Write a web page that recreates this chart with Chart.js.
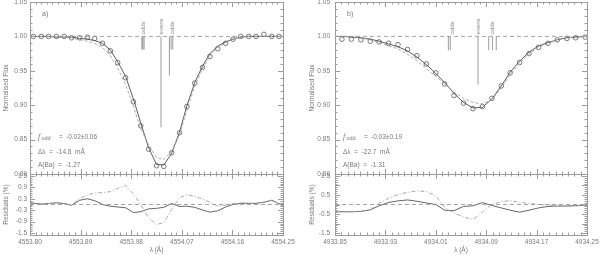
<!DOCTYPE html>
<html>
<head>
<meta charset="utf-8">
<script src="https://cdn.jsdelivr.net/npm/chart.js@4"></script>
<style>
html, body { margin: 0; padding: 0; background: #fff; }
#wrap { position: relative; width: 600px; height: 255px; overflow: hidden; }
canvas { position: absolute; }
</style>
</head>
<body>
<div id="wrap">
	<canvas id="fluxA" width="300" height="180" style="left:0;top:0"></canvas>
	<canvas id="resA" width="300" height="87" style="left:0;top:168px"></canvas>
	<canvas id="fluxB" width="300" height="180" style="left:300px;top:0"></canvas>
	<canvas id="resB" width="300" height="87" style="left:300px;top:168px"></canvas>
</div>
<script>
// ---- panel a) Ba II 4554
const leftRange = [4553.80, 4554.25];
const leftXTicks = [4553.80, 4553.89, 4553.98, 4554.07, 4554.16, 4554.25];
const leftResTicks = [-1.5, -0.9, -0.3, 0.3, 0.9, 1.5];
const leftWave = [4553.806, 4553.820, 4553.833, 4553.847, 4553.861, 4553.874, 4553.888, 4553.902, 4553.915, 4553.929, 4553.943, 4553.956, 4553.970, 4553.984, 4553.997, 4554.011, 4554.025, 4554.038, 4554.052, 4554.066, 4554.079, 4554.093, 4554.107, 4554.120, 4554.134, 4554.148, 4554.161, 4554.175, 4554.189, 4554.202, 4554.216, 4554.230, 4554.243];
const leftFluxObs = [1.000, 1.000, 1.000, 1.000, 1.000, 0.998, 0.998, 0.999, 0.997, 0.990, 0.979, 0.962, 0.940, 0.905, 0.870, 0.836, 0.812, 0.811, 0.831, 0.860, 0.898, 0.932, 0.955, 0.971, 0.982, 0.990, 0.996, 1.000, 1.000, 1.000, 1.003, 1.000, 1.000];
const leftModelWave = [4553.800, 4553.806, 4553.820, 4553.833, 4553.847, 4553.861, 4553.874, 4553.888, 4553.902, 4553.915, 4553.929, 4553.943, 4553.956, 4553.970, 4553.984, 4553.997, 4554.011, 4554.025, 4554.038, 4554.052, 4554.066, 4554.079, 4554.093, 4554.107, 4554.120, 4554.134, 4554.148, 4554.161, 4554.175, 4554.189, 4554.202, 4554.216, 4554.230, 4554.243, 4554.250];
const leftFluxFit = [1.000, 1.000, 1.000, 1.000, 0.999, 0.999, 0.999, 0.997, 0.996, 0.994, 0.990, 0.980, 0.963, 0.942, 0.909, 0.874, 0.838, 0.814, 0.813, 0.830, 0.861, 0.899, 0.933, 0.957, 0.975, 0.986, 0.992, 0.996, 0.999, 1.000, 1.000, 1.000, 1.000, 1.000, 1.000];
const leftFluxAlt = [1.000, 1.000, 1.000, 1.000, 0.999, 0.999, 0.998, 0.995, 0.993, 0.990, 0.984, 0.972, 0.954, 0.930, 0.898, 0.866, 0.842, 0.824, 0.821, 0.833, 0.857, 0.893, 0.928, 0.953, 0.971, 0.984, 0.991, 0.996, 0.999, 1.000, 1.000, 1.000, 1.000, 1.000, 1.000];
const leftResFit = [0.09, 0.07, 0.02, 0.05, 0.09, 0.05, -0.04, 0.22, 0.30, 0.20, 0.00, -0.09, -0.13, -0.17, -0.42, -0.38, -0.23, -0.20, -0.15, 0.05, -0.10, -0.09, -0.15, -0.29, -0.40, -0.33, -0.13, 0.00, 0.06, 0.06, 0.06, 0.12, 0.22, 0.04, 0.00];
const leftResAlt = [0.09, 0.07, 0.02, 0.05, 0.09, 0.05, -0.04, 0.30, 0.50, 0.60, 0.62, 0.68, 0.85, 1.00, 0.55, 0.00, -0.70, -1.05, -0.95, -0.25, 0.35, 0.52, 0.42, 0.28, 0.12, -0.08, -0.03, 0.05, 0.08, 0.06, 0.06, 0.12, 0.22, 0.04, 0.00];
const leftCompWave = [4553.999, 4554.000, 4554.001, 4554.003, 4554.033, 4554.048, 4554.051, 4554.054];
const leftCompDepth = [0.981, 0.981, 0.981, 0.981, 0.868, 0.943, 0.981, 0.981];
const leftCompNames = ["odds", "evens", "odds"];
const leftCompNameWave = [4554.0015, 4554.033, 4554.052];
const leftNotes = ["a)", "-0.02\u00b10.06", "-14.8", "-1.27"];

// ---- panel b) Ba II 4934
const rightRange = [4933.85, 4934.25];
const rightXTicks = [4933.85, 4933.93, 4934.01, 4934.09, 4934.17, 4934.25];
const rightResTicks = [-1.5, -1.0, -0.5, 0.0, 0.5, 1.0, 1.5];
const rightWave = [4933.861, 4933.876, 4933.891, 4933.906, 4933.920, 4933.935, 4933.950, 4933.965, 4933.980, 4933.995, 4934.010, 4934.024, 4934.039, 4934.054, 4934.069, 4934.084, 4934.099, 4934.114, 4934.128, 4934.143, 4934.158, 4934.173, 4934.188, 4934.203, 4934.218, 4934.232, 4934.247];
const rightFluxObs = [0.996, 0.996, 0.995, 0.993, 0.992, 0.990, 0.988, 0.981, 0.972, 0.960, 0.947, 0.931, 0.914, 0.903, 0.895, 0.898, 0.910, 0.928, 0.947, 0.962, 0.975, 0.984, 0.990, 0.995, 0.997, 0.998, 0.999];
const rightModelWave = [4933.850, 4933.861, 4933.876, 4933.891, 4933.906, 4933.920, 4933.935, 4933.950, 4933.965, 4933.980, 4933.995, 4934.010, 4934.024, 4934.039, 4934.054, 4934.069, 4934.084, 4934.099, 4934.114, 4934.128, 4934.143, 4934.158, 4934.173, 4934.188, 4934.203, 4934.218, 4934.232, 4934.247, 4934.250];
const rightFluxFit = [1.000, 1.000, 0.999, 0.998, 0.996, 0.993, 0.989, 0.985, 0.979, 0.970, 0.959, 0.946, 0.933, 0.917, 0.904, 0.896, 0.897, 0.909, 0.928, 0.948, 0.964, 0.977, 0.986, 0.991, 0.995, 0.998, 0.999, 1.000, 1.000];
const rightFluxAlt = [1.000, 1.000, 1.000, 0.998, 0.995, 0.991, 0.986, 0.982, 0.974, 0.965, 0.953, 0.942, 0.931, 0.919, 0.910, 0.904, 0.902, 0.908, 0.925, 0.944, 0.961, 0.975, 0.984, 0.990, 0.995, 0.998, 0.999, 1.000, 1.000];
const rightResFit = [-0.38, -0.38, -0.38, -0.36, -0.28, -0.07, 0.11, 0.19, 0.24, 0.17, 0.08, 0.00, -0.30, -0.32, -0.10, -0.07, 0.10, -0.05, -0.18, -0.30, -0.40, -0.30, -0.18, -0.10, -0.08, -0.08, -0.06, -0.03, 0.00];
const rightResAlt = [-0.38, -0.38, -0.38, -0.36, -0.28, 0.06, 0.33, 0.52, 0.64, 0.71, 0.68, 0.45, -0.15, -0.45, -0.65, -0.78, -0.40, 0.00, 0.15, 0.20, 0.12, 0.05, 0.00, -0.03, -0.06, -0.08, -0.08, -0.03, 0.00];
const rightCompWave = [4934.030, 4934.033, 4934.077, 4934.094, 4934.100, 4934.106];
const rightCompDepth = [0.980, 0.980, 0.930, 0.980, 0.980, 0.980];
const rightCompNames = ["odds", "evens", "odds"];
const rightCompNameWave = [4934.035, 4934.077, 4934.099];
const rightNotes = ["b)", "-0.03\u00b10.19", "-22.7", "-1.31"];

// shared
const fluxRange = [0.80, 1.05];
const fluxTicks = [0.80, 0.85, 0.90, 0.95, 1.00, 1.05];
const resRange = [-1.6, 1.6];
const continuum = [1.0, 1.0];
const zeroLevel = [0.0, 0.0];

const TXT = "#7a7a7a";
const AXIS = "#9c9c9c";
const FONT = '"Liberation Sans", Arial, sans-serif';

Chart.defaults.font.family = FONT;
Chart.defaults.color = TXT;

function series(xs, ys) {
	return xs.map(function (x, i) { return { x: x, y: ys[i] }; });
}

// IDL style box with inward major/minor ticks on all four sides
const idlAxes = {
	id: "idlAxes",
	afterDatasetsDraw(chart, args, o) {
		const ctx = chart.ctx, a = chart.chartArea;
		const xs = chart.scales.x, ys = chart.scales.y;
		ctx.save();
		ctx.strokeStyle = AXIS;
		ctx.lineWidth = 1;
		ctx.setLineDash([]);
		ctx.strokeRect(Math.round(a.left) + 0.5, Math.round(a.top) + 0.5, Math.round(a.right - a.left), Math.round(a.bottom - a.top));
		ctx.beginPath();
		for (let k = -200; k <= 200; k++) {
			const v = o.x[0] + k * o.x[1];
			if (v < xs.min - 1e-9 || v > xs.max + 1e-9) continue;
			const px = Math.round(xs.getPixelForValue(v)) + 0.5;
			const len = k % o.x[2] === 0 ? 5 : 2.5;
			ctx.moveTo(px, a.top); ctx.lineTo(px, a.top + len);
			ctx.moveTo(px, a.bottom); ctx.lineTo(px, a.bottom - len);
		}
		for (let k = -200; k <= 200; k++) {
			const v = o.y[0] + k * o.y[1];
			if (v < ys.min - 1e-9 || v > ys.max + 1e-9) continue;
			const py = Math.round(ys.getPixelForValue(v)) + 0.5;
			const len = k % o.y[2] === 0 ? 5 : 2.5;
			ctx.moveTo(a.left, py); ctx.lineTo(a.left + len, py);
			ctx.moveTo(a.right, py); ctx.lineTo(a.right - len, py);
		}
		ctx.stroke();
		ctx.restore();
	}
};

// panel letter, fit results, component names
const panelText = {
	id: "panelText",
	afterDatasetsDraw(chart, args, o) {
		if (!o.notes) return;
		const ctx = chart.ctx, a = chart.chartArea;
		const xs = chart.scales.x, ys = chart.scales.y;
		ctx.save();
		ctx.fillStyle = TXT;
		ctx.textBaseline = "middle";
		ctx.textAlign = "left";
		const x0 = a.left + o.dx;

		ctx.font = "7px " + FONT;
		ctx.fillText(o.notes[0], a.left + 12, a.top + 12);

		const y1 = a.top + 135, y2 = a.top + 150, y3 = a.top + 163;
		ctx.font = "italic 8px 'Liberation Serif', serif";
		ctx.fillText("f", x0, y1);
		ctx.font = "5.5px " + FONT;
		ctx.fillText("odd", x0 + 3.5, y1 + 1.5);
		ctx.font = "6.5px " + FONT;
		ctx.fillText("=", x0 + 21, y1);
		ctx.fillText(o.notes[1], x0 + 28, y1);
		ctx.fillText("\u0394\u03bb  =  " + o.notes[2] + "  m\u00c5", x0, y2);
		ctx.fillText("A(Ba)  =  " + o.notes[3], x0, y3);

		ctx.font = "6px " + FONT;
		ctx.fillStyle = "#8a8a8a";
		const yTop = ys.getPixelForValue(1.0) - 2;
		o.names.forEach(function (name, i) {
			ctx.save();
			ctx.translate(xs.getPixelForValue(o.nameWave[i]), yTop);
			ctx.rotate(-Math.PI / 2);
			ctx.fillText(name, 0, 0.5);
			ctx.restore();
		});
		ctx.restore();
	}
};

function fixedTicks(values) {
	return function (scale) { scale.ticks = values.map(function (v) { return { value: v }; }); };
}

// keep the plot box where the layout padding puts it
function noPad(s) {
	s.paddingTop = 0; s.paddingBottom = 0; s.paddingLeft = 0; s.paddingRight = 0;
}

function buildPanel(p) {
	const compSets = p.compWave.map(function (w, i) {
		return {
			data: [{ x: w, y: 1.0 }, { x: w, y: p.compDepth[i] }],
			borderColor: "#a5a5a5", borderWidth: 1.1, pointRadius: 0
		};
	});

	new Chart(document.getElementById(p.fluxId), {
		type: "line",
		data: {
			datasets: [
				{ data: series(p.range, continuum), borderColor: "#8f8f8f", borderWidth: 0.8, borderDash: [4, 3], pointRadius: 0 }
			].concat(compSets, [
				{ data: series(p.modelWave, p.fluxAlt), borderColor: "#a0a0a0", borderWidth: 0.9, borderDash: [3, 2], pointRadius: 0 },
				{ data: series(p.modelWave, p.fluxFit), borderColor: "#4d4d4d", borderWidth: 0.9, pointRadius: 0 },
				{
					data: series(p.wave, p.fluxObs), showLine: false,
					pointRadius: 2.3, pointBorderWidth: 0.8, pointBorderColor: "#5a5a5a", pointBackgroundColor: "rgba(0,0,0,0)"
				}
			])
		},
		options: {
			responsive: false,
			animation: false,
			events: [],
			layout: { autoPadding: false, padding: { top: 2, bottom: 6, left: 0, right: p.padRight } },
			plugins: {
				legend: { display: false },
				tooltip: { enabled: false },
				idlAxes: { x: [p.range[0], 0.01, p.xPer], y: [0.80, 0.01, 5] },
				panelText: { notes: p.notes, dx: 8, names: p.compNames, nameWave: p.compNameWave }
			},
			scales: {
				x: { type: "linear", display: false, min: p.range[0], max: p.range[1], afterFit: noPad },
				y: {
					min: fluxRange[0], max: fluxRange[1],
					afterBuildTicks: fixedTicks(fluxTicks),
					afterFit: function (s) { s.width = p.axisW; noPad(s); },
					grid: { display: false, drawTicks: false },
					border: { display: false },
					ticks: { font: { size: 6.5 }, padding: p.tickPad, callback: function (v) { return Number(v).toFixed(2); } },
					title: { display: true, text: "Normalised Flux", font: { size: 6.5 }, padding: { top: p.titlePad, bottom: 0 } }
				}
			}
		},
		plugins: [idlAxes, panelText]
	});

	new Chart(document.getElementById(p.resId), {
		type: "line",
		data: {
			datasets: [
				{ data: series(p.range, zeroLevel), borderColor: "#8f8f8f", borderWidth: 0.8, borderDash: [4, 3], pointRadius: 0 },
				{ data: series(p.modelWave, p.resAlt), borderColor: "#a0a0a0", borderWidth: 0.9, borderDash: [4, 2, 1, 2], pointRadius: 0 },
				{ data: series(p.modelWave, p.resFit), borderColor: "#555555", borderWidth: 0.9, pointRadius: 0 }
			]
		},
		options: {
			responsive: false,
			animation: false,
			events: [],
			layout: { autoPadding: false, padding: { top: 6, bottom: 0, left: 0, right: p.padRight } },
			plugins: {
				legend: { display: false },
				tooltip: { enabled: false },
				idlAxes: { x: [p.range[0], 0.01, p.xPer], y: [-1.5, 0.1, p.resPer] }
			},
			scales: {
				x: {
					type: "linear", min: p.range[0], max: p.range[1],
					afterBuildTicks: fixedTicks(p.xTicks),
					afterFit: function (s) { s.height = 20; noPad(s); },
					grid: { display: false, drawTicks: false },
					border: { display: false },
					ticks: { font: { size: 6.5 }, padding: 3, maxRotation: 0, autoSkip: false, callback: function (v) { return Number(v).toFixed(2); } },
					title: { display: true, text: "\u03bb (\u00c5)", font: { size: 6.5 }, padding: { top: 0, bottom: 1 } }
				},
				y: {
					min: resRange[0], max: resRange[1],
					afterBuildTicks: fixedTicks(p.resTicks),
					afterFit: function (s) { s.width = p.axisW; noPad(s); },
					grid: { display: false, drawTicks: false },
					border: { display: false },
					ticks: { font: { size: 6.5 }, padding: p.tickPad, callback: function (v) { return Number(v).toFixed(1); } },
					title: { display: true, text: "Residuals (%)", font: { size: 6.5 }, padding: { top: p.titlePad, bottom: 0 } }
				}
			}
		},
		plugins: [idlAxes]
	});
}

buildPanel({
	fluxId: "fluxA", resId: "resA", range: leftRange, xTicks: leftXTicks, xPer: 9,
	resTicks: leftResTicks, resPer: 6, axisW: 30, padRight: 17, tickPad: 3, titlePad: 2,
	wave: leftWave, fluxObs: leftFluxObs, modelWave: leftModelWave,
	fluxFit: leftFluxFit, fluxAlt: leftFluxAlt, resFit: leftResFit, resAlt: leftResAlt,
	compWave: leftCompWave, compDepth: leftCompDepth, compNames: leftCompNames, compNameWave: leftCompNameWave,
	notes: leftNotes
});

buildPanel({
	fluxId: "fluxB", resId: "resB", range: rightRange, xTicks: rightXTicks, xPer: 8,
	resTicks: rightResTicks, resPer: 5, axisW: 35, padRight: 13, tickPad: 5, titlePad: 8,
	wave: rightWave, fluxObs: rightFluxObs, modelWave: rightModelWave,
	fluxFit: rightFluxFit, fluxAlt: rightFluxAlt, resFit: rightResFit, resAlt: rightResAlt,
	compWave: rightCompWave, compDepth: rightCompDepth, compNames: rightCompNames, compNameWave: rightCompNameWave,
	notes: rightNotes
});
</script>
</body>
</html>
